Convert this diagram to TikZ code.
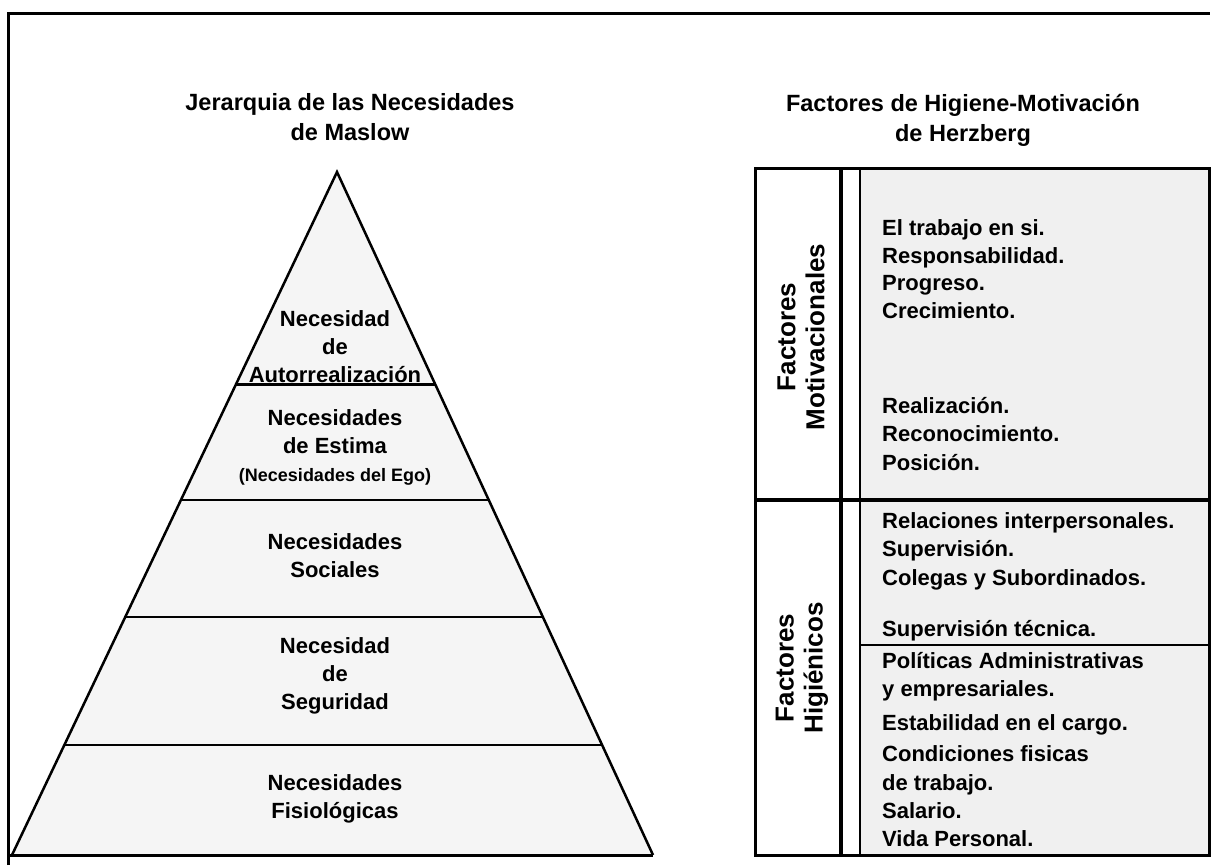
\documentclass[tikz,border=0pt]{standalone}
\usepackage{fontspec}
\setmainfont{Liberation Sans}
\usetikzlibrary{calc}

\tikzset{
  title/.style={font=\fontsize{23.5}{30}\selectfont\bfseries, align=center, inner sep=0pt},
  level/.style={font=\fontsize{22}{28}\selectfont\bfseries, align=center, inner sep=0pt},
  item/.style={font=\fontsize{22}{28}\selectfont\bfseries, anchor=base west, inner sep=0pt},
  side/.style={font=\fontsize{26}{29}\selectfont\bfseries, align=center, rotate=90, inner sep=0pt},
}

\begin{document}
\begin{tikzpicture}[x=1pt, y=-1pt, line join=miter]
  \useasboundingbox (0,0) rectangle (1214,865);

  % frame
  \draw [line width=3pt] (8,865) -- (8,13) -- (1210,13);

  % pyramid
  \coordinate (apex) at (337,172);
  \coordinate (bl) at (12,855);
  \coordinate (br) at (653,855);
  \draw [line width=2.5pt, fill=gray!8] (bl) -- (apex) -- (br);
  \draw [line width=3pt] (8,855) -- (br);

  \foreach \t/\w in {0.3104/3pt, 0.4802/2pt, 0.6515/2pt, 0.8389/2pt}
    \draw [line width=\w] ($(apex)!\t!(bl)$) -- ($(apex)!\t!(br)$);

  \node [title] (maslow) at (350,117) {Jerarquia de las Necesidades\\de Maslow};
  \node [level] (auto) at (335,347) {Necesidad\\de\\Autorrealización};
  \node [level] (estima) at (335,447) {Necesidades\\de Estima\\{\fontsize{18}{24}\selectfont (Necesidades del Ego)}};
  \node [level] (social) at (335,556) {Necesidades\\Sociales};
  \node [level] (segur) at (335,676) {Necesidad\\de\\Seguridad};
  \node [level] (fisio) at (335,799) {Necesidades\\Fisiológicas};

  % table
  \node [title] (herzberg) at (963,120) {Factores de Higiene-Motivación\\de Herzberg};

  \fill [gray!12] (860,168) rectangle (1209,855);
  \draw [line width=3pt] (755,168) rectangle (1209,855);
  \draw [line width=4pt] (841,168) -- (841,855);
  \draw [line width=1.5pt] (860,168) -- (860,855);
  \draw [line width=4pt] (755,500) -- (1209,500);
  \draw [line width=1.5pt] (860,645) -- (1209,645);

  \node [side] (motiv) at (801,337) {Factores\\Motivacionales};
  \node [side] (higien) at (802,668) {Factores\\Higiénicos};

  \foreach \yy/\txt [count=\i] in {235/El trabajo en si., 263/Responsabilidad., 290/Progreso.,
      318/Crecimiento., 413/Realización., 441/Reconocimiento., 470/Posición.,
      528/Relaciones interpersonales., 556/Supervisión., 585/Colegas y Subordinados.,
      636/Supervisión técnica., 668/Políticas Administrativas, 696/y empresariales.,
      730/Estabilidad en el cargo., 761/Condiciones fisicas, 790/de trabajo.,
      818/Salario., 846/Vida Personal.}
    \node [item] (it\i) at (882,\yy) {\txt};
\end{tikzpicture}
\end{document}
